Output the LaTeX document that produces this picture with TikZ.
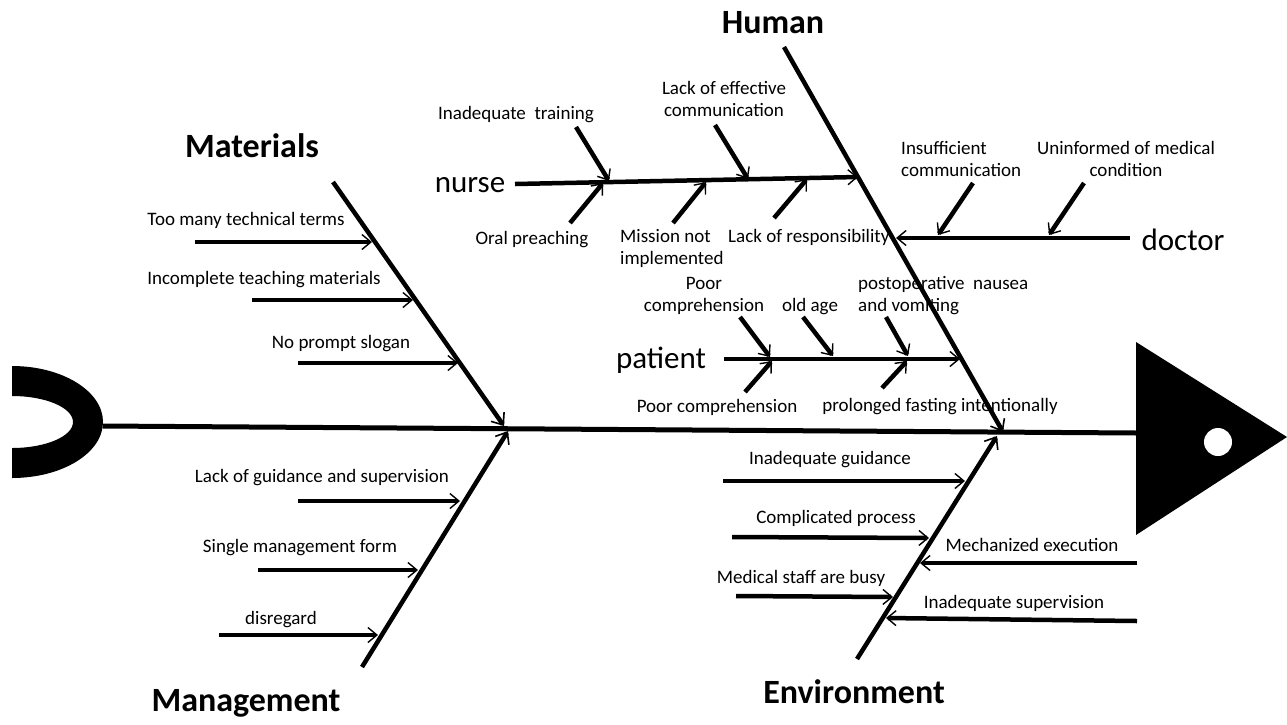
\documentclass[tikz,border=0pt]{standalone}
\usepackage{fontspec}
\setmainfont{Carlito}
\usetikzlibrary{arrows.meta}
\tikzset{
  bone/.style={line width=4.5pt,-{Straight Barb[line width=1.6pt,length=10pt,width=16pt]}},
  cause/.style={line width=4.5pt,-{Straight Barb[line width=1.4pt,length=9pt,width=15pt]}},
  lbl/.style={inner sep=0pt,font=\fontsize{19}{22}\selectfont},
  grp/.style={inner sep=0pt,font=\bfseries\fontsize{34}{40}\selectfont},
  who/.style={inner sep=0pt,font=\fontsize{31}{36}\selectfont},
}
\begin{document}
\begin{tikzpicture}[x=1pt,y=-1pt]
\useasboundingbox (0,0) rectangle (1287,724);
\coordinate (tail) at (103,426);
\coordinate (head) at (1137,433);
\coordinate (mat) at (333,182);
\coordinate (matx) at (504,426);
\coordinate (hum) at (784,47);
\coordinate (humx) at (1003,432);
\coordinate (man) at (362,667);
\coordinate (manx) at (508,431);
\coordinate (env) at (857,659);
\coordinate (envx) at (997,436);
\node[grp] (gmat) at (252,146) {Materials};
\node[grp] (ghum) at (773,23) {Human};
\node[grp] (gman) at (246,703) {Management};
\node[grp] (genv) at (854,692) {Environment};
\node[who] (nurse) at (470,185) {nurse};
\node[who] (doctor) at (1183,240) {doctor};
\node[who] (patient) at (661,360) {patient};
\node[lbl] (tterms) at (246,220) {Too many technical terms};
\node[lbl] (tmats) at (264,280) {Incomplete teaching materials};
\node[lbl] (tslogan) at (341,344) {No prompt slogan};
\node[lbl] (tguide) at (322,478) {Lack of guidance and supervision};
\node[lbl] (tform) at (300,548) {Single management form};
\node[lbl] (tdisr) at (281,620) {disregard};
\node[lbl] (tinguid) at (830,460) {Inadequate guidance};
\node[lbl] (tproc) at (836,518) {Complicated process};
\node[lbl] (tbusy) at (801,578) {Medical staff are busy};
\node[lbl] (tmech) at (1032,545) {Mechanized execution};
\node[lbl] (tinsup) at (1014,603) {Inadequate supervision};
\node[lbl] (ttrain) at (516,115) {Inadequate\ \ training};
\node[lbl,align=center] (tcomm) at (724,99) {Lack of effective\\communication};
\node[lbl] (toral) at (532,240) {Oral preaching};
\node[lbl,align=left,anchor=west] (tmiss) at (620,248) {Mission not\\implemented};
\node[lbl,anchor=west] (tresp) at (728,237) {Lack of responsibility};
\node[lbl,align=left,anchor=west] (tinsuf) at (901,159) {Insufficient\\communication};
\node[lbl,align=center] (tuninf) at (1126,159) {Uninformed of medical\\condition};
\node[lbl,align=center] (tpoor) at (704,296) {Poor\\comprehension};
\node[lbl] (told) at (810,307) {old age};
\node[lbl,align=left,anchor=west] (tponv) at (858,296) {postoperative\ \ nausea\\and vomiting};
\node[lbl] (tpoorb) at (717,407) {Poor comprehension};
\node[lbl] (tfast) at (940,407) {prolonged fasting intentionally};
\draw[line width=5pt] (tail)--(head);
\fill (12,366) arc[start angle=-90,end angle=90,x radius=91,y radius=56]
  -- (12,448) arc[start angle=90,end angle=-90,x radius=61,y radius=26] -- cycle;
\fill (1136,342) -- (1287,437) -- (1136,535) -- cycle;
\fill[white] (1218,442) circle[radius=14];
\draw[bone] (mat)--(matx);
\draw[bone] (hum)--(humx);
\draw[bone] (man)--(manx);
\draw[bone] (env)--(envx);
\coordinate (nurs) at (515,184);
\coordinate (nurx) at (858,177);
\coordinate (docs) at (1130,238);
\coordinate (docx) at (896,238);
\coordinate (pats) at (724,359);
\coordinate (patx) at (960,359);
\draw[cause] (nurs)--(nurx);
\draw[cause] (docs)--(docx);
\draw[cause] (pats)--(patx);
\foreach \a/\b/\c/\d in {195/242/372/242, 252/300/413/300, 298/363/458/363,
    298/501/460/501, 258/570/418/570, 219/635/378/635,
    723/481/965/481, 732/537/929/538, 736/596/893/597, 1137/563/920/563, 1137/621/886/618,
    576/127/609/181, 715/125/748/179, 570/223/603/183, 673/223/706/182, 774/218/807/179,
    973/183/938/235, 1084/183/1049/235,
    740/317/770/357, 803/317/833/356, 886/317/908/356, 745/392/772/361, 882/388/907/361}
  \draw[cause] (\a,\b)--(\c,\d);
\end{tikzpicture}
\end{document}
